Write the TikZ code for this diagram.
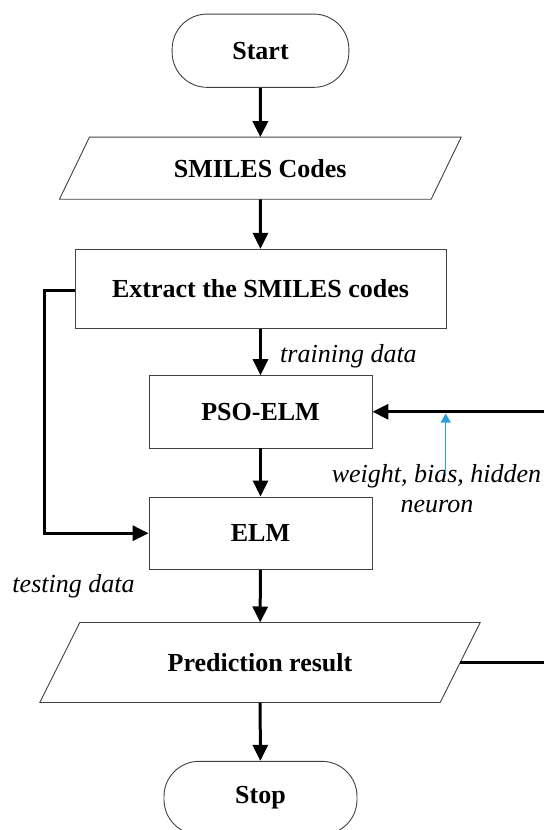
\documentclass[tikz,border=0pt]{standalone}
\usepackage{fontspec}
\setmainfont{Liberation Serif}
\usetikzlibrary{arrows.meta,calc}
\definecolor{hintblue}{RGB}{41,160,221}

\begin{document}
\begin{tikzpicture}[x=1pt,y=-1pt,
  outline/.style={draw=black!75, line width=0.9pt},
  label font/.style={font=\fontsize{26}{30}\selectfont\bfseries},
  proc/.style={outline, rectangle, inner sep=0pt, label font},
  term/.style={proc, rounded corners=35pt},
  iobox/.style={rectangle, inner sep=0pt, label font},
  flow/.style={line width=3pt, -{Triangle[length=16pt,width=15pt]}},
  flowline/.style={line width=3pt},
  note/.style={font=\fontsize{26}{30}\selectfont\itshape, inner sep=0pt},
  hint/.style={draw=hintblue, line width=1.2pt, -{Triangle[length=9pt,width=10pt]}}]

\useasboundingbox (0,0) rectangle (544,830);

% main column
\node[term, minimum width=176.7pt, minimum height=73.3pt] (start) at (260.5,50.7) {Start};
\node[iobox, minimum width=401.3pt, minimum height=61.7pt] (smiles) at (260.3,168.2) {SMILES Codes};
\node[proc, minimum width=371pt, minimum height=78.7pt] (extract) at (260.5,288.7) {Extract the SMILES codes};
\node[proc, minimum width=223pt, minimum height=72.3pt] (pso) at (260.5,411.8) {PSO-ELM};
\node[proc, minimum width=223pt, minimum height=72.5pt] (elm) at (260.5,533.2) {ELM};
\node[iobox, minimum width=440pt, minimum height=79.6pt] (pred) at (260,662.5) {Prediction result};
\node[term, minimum width=193pt, minimum height=73.3pt] (stop) at (260.5,798) {Stop};

% slanted input/output shapes
\draw[outline] ($(smiles.north west)+(30,0)$) -- (smiles.north east)
  -- ($(smiles.south east)+(-30,0)$) -- (smiles.south west) -- cycle;
\draw[outline] ($(pred.north west)+(40,0)$) -- (pred.north east)
  -- ($(pred.south east)+(-40,0)$) -- (pred.south west) -- cycle;

% labels
\node[note, anchor=base west] (train) at (280,362.5) {training data};
\node[note, anchor=base west] (test) at (12.3,592.5) {testing data};
\node[note, anchor=base] (param1) at (436.5,482) {weight, bias, hidden};
\node[note, anchor=base] (param2) at (437,512) {neuron};

% connectors
\draw[flow] (start) -- (smiles);
\draw[flow] (smiles) -- (extract);
\draw[flow] (extract) -- (pso);
\draw[flow] (pso) -- (elm);
\draw[flow] (elm) -- (pred);
\draw[flow] (pred) -- (stop);

\draw[flow] ([yshift=-1.3pt]extract.west) -- ++(-30,0) |- (elm.west);

\coordinate (feedin) at (544,411.8);
\coordinate (feedout) at (544,662.5);
\draw[flow] (feedin) -- (pso.east);
\draw[flowline] ($(pred.east)+(-20,0)$) -- (feedout);

\coordinate (hintfoot) at (445.7,476);
\coordinate (hinttip) at (445.7,413.5);
\draw[hint] (hintfoot) -- (hinttip);
\end{tikzpicture}
\end{document}
